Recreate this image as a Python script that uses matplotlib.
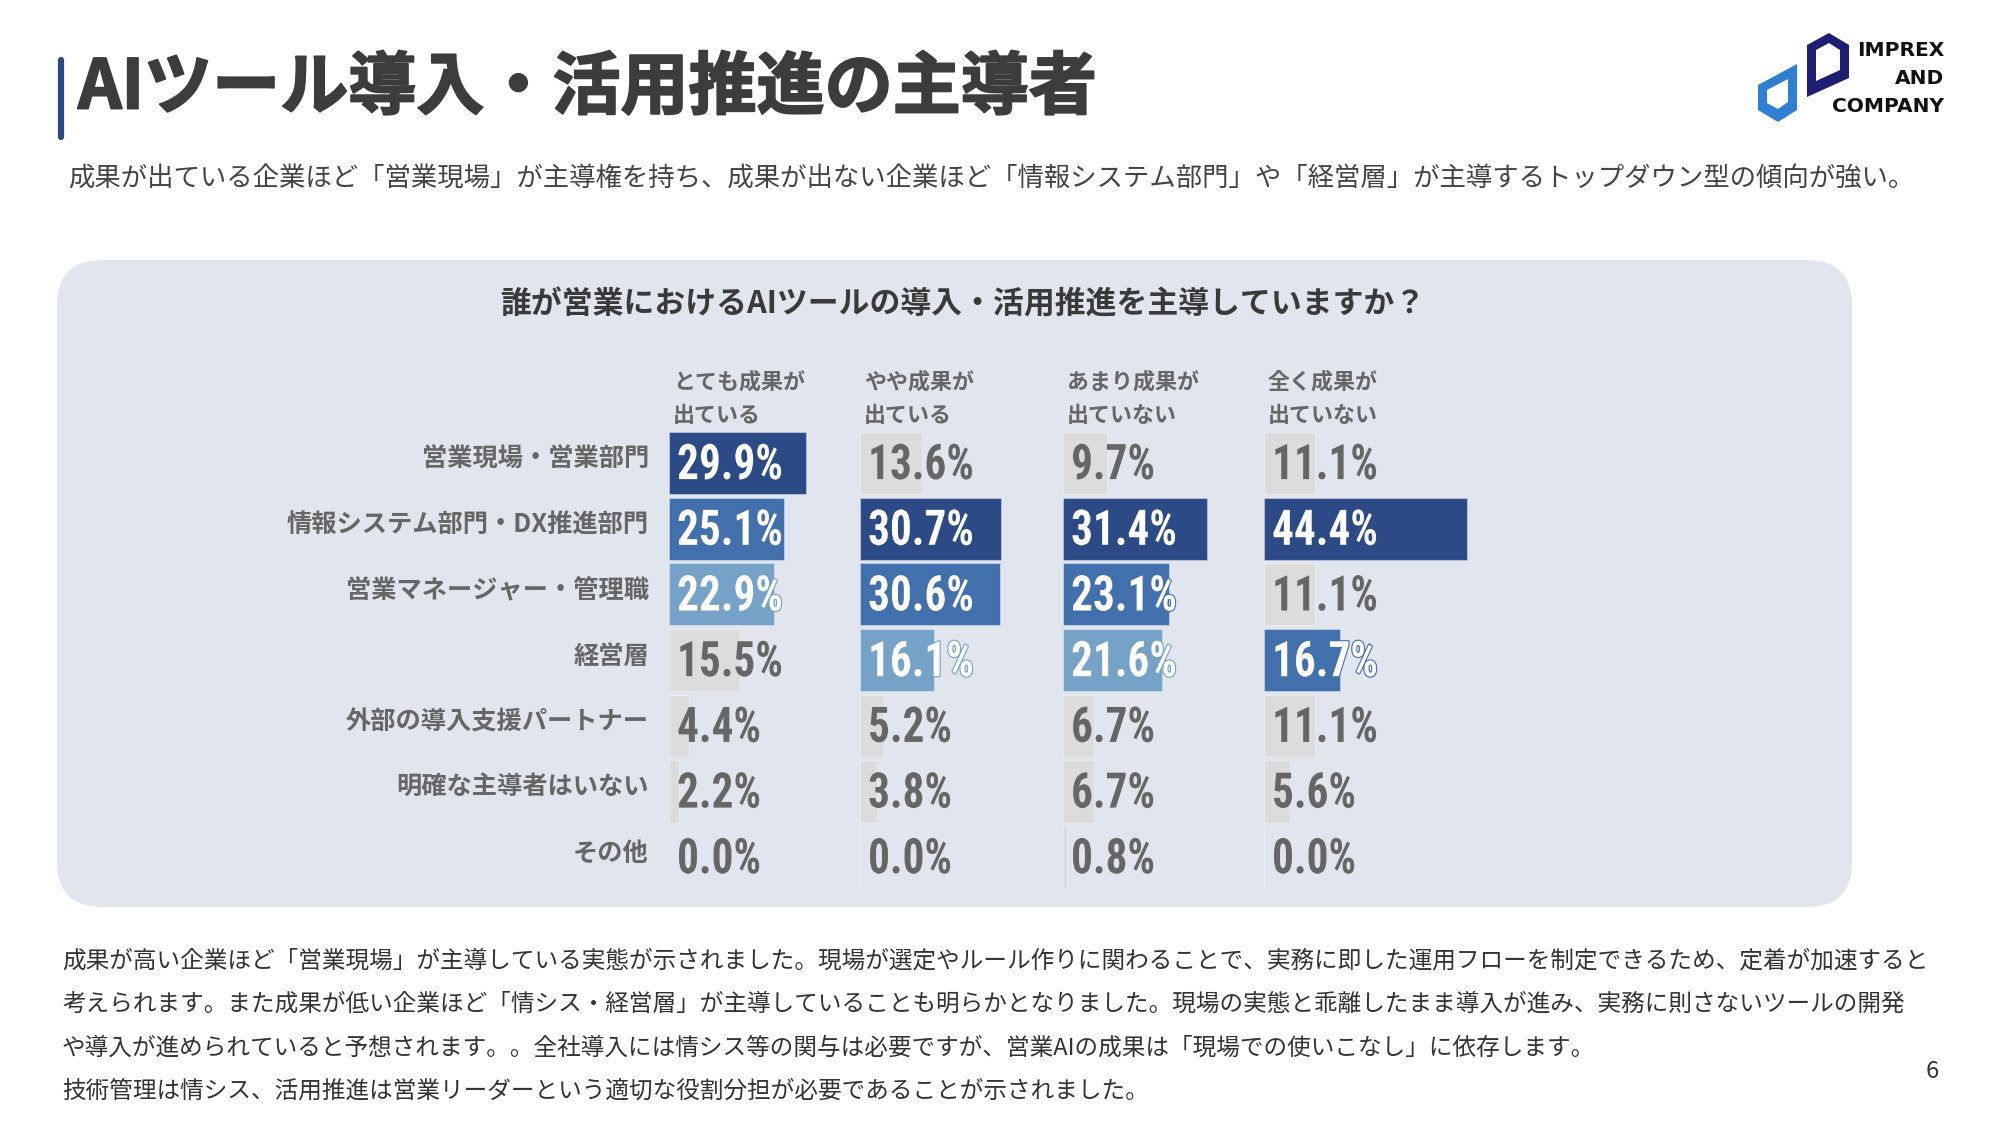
import matplotlib
matplotlib.use("Agg")
import matplotlib.pyplot as plt
from matplotlib import font_manager as fm
from matplotlib.patches import FancyBboxPatch, Polygon
from matplotlib.transforms import Affine2D
import matplotlib.patheffects as pe

# ---------------- data ----------------
categories = ['営業現場・営業部門', '情報システム部門・DX推進部門', '営業マネージャー・管理職',
              '経営層', '外部の導入支援パートナー', '明確な主導者はいない', 'その他']
groups = ['とても成果が\n出ている', 'やや成果が\n出ている', 'あまり成果が\n出ていない', '全く成果が\n出ていない']
very_good = [29.9, 25.1, 22.9, 15.5, 4.4, 2.2, 0.0]
somewhat_good = [13.6, 30.7, 30.6, 16.1, 5.2, 3.8, 0.0]
not_much = [9.7, 31.4, 23.1, 21.6, 6.7, 6.7, 0.8]
not_at_all = [11.1, 44.4, 11.1, 16.7, 11.1, 5.6, 0.0]
series = [very_good, somewhat_good, not_much, not_at_all]
# highlight level per bar (1 = top, 2 = second, 3 = third, 0 = none)
hl_very_good = [1, 2, 3, 0, 0, 0, 0]
hl_somewhat_good = [0, 1, 2, 3, 0, 0, 0]
hl_not_much = [0, 1, 2, 3, 0, 0, 0]
hl_not_at_all = [0, 1, 0, 2, 0, 0, 0]
highlights = [hl_very_good, hl_somewhat_good, hl_not_much, hl_not_at_all]

title = 'AIツール導入・活用推進の主導者'
subtitle = ('成果が出ている企業ほど「営業現場」が主導権を持ち、成果が出ない企業ほど'
            '「情報システム部門」や「経営層」が主導するトップダウン型の傾向が強い。')
chart_title = '誰が営業におけるAIツールの導入・活用推進を主導していますか？'
body_lines = [
    '成果が高い企業ほど「営業現場」が主導している実態が示されました。現場が選定やルール作りに関わることで、実務に即した運用フローを制定できるため、定着が加速すると',
    '考えられます。また成果が低い企業ほど「情シス・経営層」が主導していることも明らかとなりました。現場の実態と乖離したまま導入が進み、実務に則さないツールの開発',
    'や導入が進められていると予想されます。。全社導入には情シス等の関与は必要ですが、営業AIの成果は「現場での使いこなし」に依存します。',
    '技術管理は情シス、活用推進は営業リーダーという適切な役割分担が必要であることが示されました。',
]
page_no = '6'
logo_words = ['IMPREX', 'AND', 'COMPANY']

# ---------------- style ----------------
JP = ['Noto Sans CJK JP', 'DejaVu Sans']
names = {f.name for f in fm.fontManager.ttflist}
NUMF = next((n for n in ['Roboto Condensed', 'Liberation Sans Narrow', 'DejaVu Sans Condensed']
             if n in names), 'DejaVu Sans')
plt.rcParams['font.family'] = JP

level_colors = {1: '#2C4A86', 2: '#4270AC', 3: '#76A2C8', 0: '#DCDCDC'}
PANEL = '#E1E5EE'
W, H = 1999, 1125
SX = 0.88  # horizontal condensing of the number glyphs


class NarrowNormal(pe.AbstractPathEffect):
    def draw_path(self, renderer, gc, tpath, affine, rgbFace):
        renderer.draw_path(gc, tpath, Affine2D().scale(SX, 1) + affine, rgbFace)


class NarrowStroke(pe.Stroke):
    def draw_path(self, renderer, gc, tpath, affine, rgbFace):
        super().draw_path(renderer, gc, tpath, Affine2D().scale(SX, 1) + affine, rgbFace)


fig = plt.figure(figsize=(W / 100, H / 100), dpi=100)
fig.patch.set_facecolor('white')

# background axes in pixel coordinates
bg = fig.add_axes([0, 0, 1, 1])
bg.set_xlim(0, W)
bg.set_ylim(H, 0)
bg.axis('off')

# title bar & title
bg.plot([61, 61], [60, 137], color='#2C4A86', lw=4.5, solid_capstyle='round')
bg.text(78, 89, title, fontsize=49, fontweight='bold', color='#3C3C3C', va='center', ha='left',
        path_effects=[pe.withStroke(linewidth=1.4, foreground='#3C3C3C')])
bg.text(68, 179, subtitle, fontsize=19.0, color='#444444', va='center', ha='left')

# logo
dark_outer = [(1807, 45), (1829, 33), (1849, 45), (1849, 78), (1807, 97)]
dark_inner = [(1816, 50), (1829, 43), (1840, 50), (1840, 70), (1816, 81)]
light_outer = [(1758, 85), (1797, 64), (1797, 110), (1778, 122), (1758, 110)]
light_inner = [(1767, 90), (1788, 79), (1788, 102), (1778, 109), (1767, 103)]
bg.add_patch(Polygon(dark_outer, closed=True, fc='#1E1E72', ec='none'))
bg.add_patch(Polygon(dark_inner, closed=True, fc='white', ec='none'))
bg.add_patch(Polygon(light_outer, closed=True, fc='#2F80D2', ec='none'))
bg.add_patch(Polygon(light_inner, closed=True, fc='white', ec='none'))
for i, wd in enumerate(logo_words):
    bg.text(1944, 51 + i * 27.5, wd, fontsize=14.5, fontweight='bold', color='#111111',
            ha='right', va='center', family=['DejaVu Sans'])

# panel
bg.add_patch(FancyBboxPatch((57 + 45, 260 + 45), 1852 - 57 - 90, 907 - 260 - 90,
                            boxstyle='round,pad=45', fc=PANEL, ec='none'))
bg.text(963, 304, chart_title, fontsize=22.2, fontweight='bold', color='#3A3A3A',
        ha='center', va='center')

# body text
for i, line in enumerate(body_lines):
    bg.text(62, 961 + i * 43.5, line, fontsize=17.0, color='#333333', ha='left', va='center')
bg.text(1932, 1072, page_no, fontsize=17, color='#333333', ha='center', va='center')

# ---------------- bars ----------------
col_lefts = [669, 860, 1063, 1264]
px_per_pct = 4.58
row0, pitch = 463, 65.7
n = len(categories)
ax_top = row0 - pitch / 2
ax_h = pitch * n
ax_w = 215

for c, (vals, hls) in enumerate(zip(series, highlights)):
    left = col_lefts[c]
    ax = fig.add_axes([left / W, 1 - (ax_top + ax_h) / H, ax_w / W, ax_h / H])
    ax.set_xlim(0, ax_w / px_per_pct)
    ax.set_ylim(n - 0.5, -0.5)
    ax.axis('off')
    ax.patch.set_alpha(0)
    cols = [level_colors[h] for h in hls]
    ax.barh(range(n), vals, height=0.945, color=cols, edgecolor=(1, 1, 1, 0.35),
            linewidth=0.8, clip_on=False)
    for r, (v, h) in enumerate(zip(vals, hls)):
        if h:
            effects = [NarrowStroke(linewidth=1.6, foreground=level_colors[h]), NarrowNormal()]
            color = 'white'
        else:
            effects = [NarrowNormal()]
            color = '#666666'
        ax.annotate(f'{v:.1f}%', xy=(0, r), xytext=(5.8, -11.6), textcoords='offset points',
                    fontsize=35.4, fontweight='bold', color=color, family=NUMF,
                    ha='left', va='baseline', path_effects=effects, annotation_clip=False)
    # column header
    head1, head2 = groups[c].split('\n')
    bg.text(left + 4, 382, head1, fontsize=15.8, fontweight='bold',
            color='#666666', ha='left', va='center')
    bg.text(left + 4, 415, head2, fontsize=15.8, fontweight='bold',
            color='#666666', ha='left', va='center')

for r, cat in enumerate(categories):
    bg.text(649, row0 + r * pitch - 4, cat, fontsize=18.2, fontweight='bold', color='#666666',
            ha='right', va='center')

fig.savefig('out.png', dpi=100, facecolor='white')
